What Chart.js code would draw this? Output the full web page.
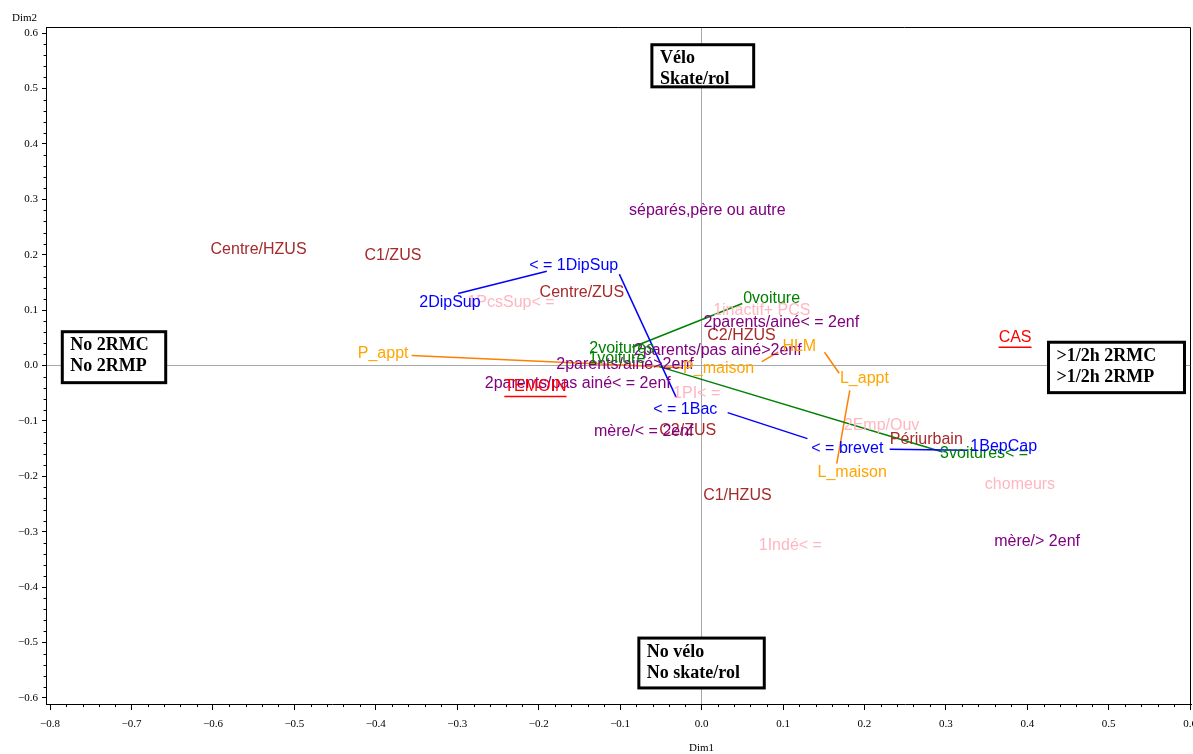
<!DOCTYPE html>
<html>
<head>
<meta charset="utf-8">
<script src="https://cdn.jsdelivr.net/npm/chart.js@4.4.0/dist/chart.umd.min.js"></script>
<style>
  html, body { margin: 0; padding: 0; background: #fff; }
</style>
</head>
<body>
<canvas id="acm" width="1193" height="754"></canvas>
<script>
// axis ticks
const xTicks = [-0.8, -0.7, -0.6, -0.5, -0.4, -0.3, -0.2, -0.1, 0, 0.1, 0.2, 0.3, 0.4, 0.5, 0.6];
const yTicks = [-0.6, -0.5, -0.4, -0.3, -0.2, -0.1, 0, 0.1, 0.2, 0.3, 0.4, 0.5, 0.6];

// groupe (red, underlined)
const groupeLabels = ["TEMOIN", "CAS"];
const groupeX = [-0.204, 0.385];
const groupeY = [-0.038, 0.051];

// zone de residence (brown)
const zoneLabels = ["Centre/HZUS", "C1/ZUS", "Centre/ZUS", "C2/HZUS", "C2/ZUS", "C1/HZUS", "Périurbain"];
const zoneX = [-0.544, -0.379, -0.147, 0.049, -0.017, 0.044, 0.276];
const zoneY = [0.210, 0.199, 0.132, 0.054, -0.118, -0.235, -0.134];

// famille (purple)
const familleLabels = ["séparés,père ou autre", "2parents/ainé< = 2enf", "2parents/pas ainé>2enf",
  "2parents/ainé>2enf", "2parents/pas ainé< = 2enf", "mère/< = 2enf", "mère/> 2enf"];
const familleX = [0.007, 0.098, 0.020, -0.094, -0.152, -0.071, 0.412];
const familleY = [0.280, 0.078, 0.027, 0.002, -0.033, -0.119, -0.318];

// diplome (blue)
const diplomeLabels = ["< = 1DipSup", "2DipSup", "< = 1Bac", "< = brevet", "1BepCap"];
const diplomeX = [-0.157, -0.309, -0.020, 0.179, 0.371];
const diplomeY = [0.181, 0.114, -0.080, -0.150, -0.146];
const diplomeLinks = [
  [-0.299, 0.130, -0.190, 0.170],
  [-0.101, 0.165, -0.031, -0.058],
  [0.032, -0.085, 0.130, -0.132],
  [0.231, -0.151, 0.326, -0.153]
];

// voitures (green)
const voitureLabels = ["0voiture", "2voitures", "1voiture", "3voitures< ="];
const voitureX = [0.086, -0.098, -0.104, 0.347];
const voitureY = [0.121, 0.031, 0.013, -0.159];
const voitureLinks = [
  [0.050, 0.112, -0.085, 0.033],
  [-0.052, -0.002, 0.296, -0.156]
];

// logement (orange)
const logementLabels = ["P_appt", "P_maison", "HLM", "L_appt", "L_maison"];
const logementX = [-0.391, 0.021, 0.120, 0.200, 0.185];
const logementY = [0.022, -0.005, 0.034, -0.024, -0.193];
const logementLinks = [
  [-0.356, 0.018, -0.023, -0.004],
  [0.074, 0.007, 0.094, 0.024],
  [0.151, 0.024, 0.169, -0.014],
  [0.182, -0.045, 0.166, -0.177]
];

// PCS (pink)
const pcsLabels = ["1PcsSup< =", "1inactif+ PCS", "1PI< =", "2Emp/Ouv", "chomeurs", "1Indé< ="];
const pcsX = [-0.234, 0.074, -0.006, 0.221, 0.391, 0.109];
const pcsY = [0.114, 0.099, -0.051, -0.108, -0.215, -0.325];

// axis-end boxes: [x1, y1, x2, y2] in data units
const boxTexts = [["Vélo", "Skate/rol"], ["No vélo", "No skate/rol"], ["No 2RMC", "No 2RMP"], [">1/2h 2RMC", ">1/2h 2RMP"]];
const boxRects = [
  [-0.061, 0.579, 0.064, 0.503],
  [-0.077, -0.492, 0.077, -0.582],
  [-0.785, 0.061, -0.658, -0.031],
  [0.426, 0.042, 0.593, -0.049]
];

const labelGroups = [
  { labels: zoneLabels, xs: zoneX, ys: zoneY, color: "#a52a2a" },
  { labels: familleLabels, xs: familleX, ys: familleY, color: "#800080" },
  { labels: pcsLabels, xs: pcsX, ys: pcsY, color: "#ffb6c1" },
  { labels: logementLabels, xs: logementX, ys: logementY, color: "#ffa500" },
  { labels: voitureLabels, xs: voitureX, ys: voitureY, color: "#008000" },
  { labels: diplomeLabels, xs: diplomeX, ys: diplomeY, color: "#0000ff" },
  { labels: groupeLabels, xs: groupeX, ys: groupeY, color: "#ff0000", underline: true }
];

const linkSets = [
  { links: diplomeLinks, color: "#0000ff" },
  { links: voitureLinks, color: "#008000" },
  { links: logementLinks, color: "#ff8000" }
];

const datasets = [];
linkSets.forEach(s => {
  s.links.forEach(l => {
    datasets.push({
      data: [{ x: l[0], y: l[1] }, { x: l[2], y: l[3] }],
      showLine: true,
      borderColor: s.color,
      borderWidth: 1.5,
      pointRadius: 0,
      pointHoverRadius: 0
    });
  });
});

const fmt = v => (v < 0 ? "\u2212" : "") + Math.abs(v).toFixed(1);

const overlay = {
  id: "overlay",
  afterDatasetsDraw(chart) {
    const { ctx, chartArea: a, scales: { x, y } } = chart;
    ctx.save();

    // labels
    ctx.font = '16px "Liberation Sans", Arial, sans-serif';
    ctx.textAlign = "center";
    ctx.textBaseline = "middle";
    labelGroups.forEach(g => {
      ctx.fillStyle = g.color;
      ctx.strokeStyle = g.color;
      g.labels.forEach((t, i) => {
        const px = x.getPixelForValue(g.xs[i]);
        const py = y.getPixelForValue(g.ys[i]);
        ctx.fillText(t, px, py);
        if (g.underline) {
          const w = ctx.measureText(t).width;
          ctx.lineWidth = 1.5;
          ctx.beginPath();
          ctx.moveTo(px - w / 2, py + 10);
          ctx.lineTo(px + w / 2, py + 10);
          ctx.stroke();
        }
      });
    });

    // boxes
    ctx.font = 'bold 18px "Liberation Serif", "Times New Roman", serif';
    ctx.textAlign = "left";
    boxRects.forEach((r, i) => {
      const x1 = x.getPixelForValue(r[0]), y1 = y.getPixelForValue(r[1]);
      const x2 = x.getPixelForValue(r[2]), y2 = y.getPixelForValue(r[3]);
      ctx.fillStyle = "#fff";
      ctx.fillRect(x1, y1, x2 - x1, y2 - y1);
      ctx.strokeStyle = "#000";
      ctx.lineWidth = 3;
      ctx.strokeRect(x1, y1, x2 - x1, y2 - y1);
      ctx.fillStyle = "#000";
      ctx.fillText(boxTexts[i][0], x1 + 8, y1 + 14);
      ctx.fillText(boxTexts[i][1], x1 + 8, y1 + 35);
    });

    // frame top / right
    ctx.strokeStyle = "#000";
    ctx.lineWidth = 1;
    ctx.beginPath();
    ctx.moveTo(a.left, a.top + 0.5);
    ctx.lineTo(a.right - 0.5, a.top + 0.5);
    ctx.lineTo(a.right - 0.5, a.bottom);
    ctx.stroke();
    ctx.restore();
  },
  afterDraw(chart) {
    const { ctx, chartArea: a, scales: { x, y } } = chart;
    ctx.save();
    ctx.strokeStyle = "#000";
    ctx.lineWidth = 1;
    ctx.beginPath();
    // minor ticks every 0.02
    for (let k = -40; k <= 30; k++) {
      if (k % 5 === 0) continue;
      const px = Math.round(x.getPixelForValue(k * 0.02)) + 0.5;
      ctx.moveTo(px, a.bottom);
      ctx.lineTo(px, a.bottom + 3);
    }
    for (let k = -30; k <= 30; k++) {
      if (k % 5 === 0) continue;
      const py = Math.round(y.getPixelForValue(k * 0.02)) + 0.5;
      ctx.moveTo(a.left, py);
      ctx.lineTo(a.left - 2.5, py);
    }
    ctx.stroke();

    ctx.fillStyle = "#000";
    ctx.font = '11px "Liberation Serif", serif';
    ctx.textBaseline = "middle";
    ctx.textAlign = "left";
    ctx.fillText("Dim2", 12, 18);
    ctx.textAlign = "center";
    ctx.fillText("Dim1", x.getPixelForValue(0), 748);
    ctx.restore();
  }
};

new Chart(document.getElementById("acm"), {
  type: "scatter",
  data: { datasets: datasets },
  options: {
    responsive: false,
    animation: false,
    layout: { padding: { top: 27, right: 2, left: 0, bottom: 0 } },
    plugins: { legend: { display: false }, tooltip: { enabled: false } },
    scales: {
      x: {
        type: "linear",
        min: -0.805,
        max: 0.601,
        afterBuildTicks: s => { s.ticks = xTicks.map(v => ({ value: v })); },
        afterFit: s => { s.height = 50; s.paddingLeft = 0; s.paddingRight = 0; },
        grid: {
          color: c => (c.tick && c.tick.value === 0 ? "#a8a8a8" : "rgba(0,0,0,0)"),
          tickColor: "#000",
          tickLength: 6,
          lineWidth: 1
        },
        border: { color: "#000", width: 1 },
        ticks: {
          padding: 8,
          maxRotation: 0,
          autoSkip: false,
          color: "#000",
          font: { family: '"Liberation Serif", serif', size: 11 },
          callback: v => fmt(v)
        }
      },
      y: {
        type: "linear",
        min: -0.611,
        max: 0.611,
        afterBuildTicks: s => { s.ticks = yTicks.map(v => ({ value: v })); },
        afterFit: s => { s.width = 46; s.paddingTop = 0; s.paddingBottom = 0; },
        grid: {
          color: c => (c.tick && c.tick.value === 0 ? "#a8a8a8" : "rgba(0,0,0,0)"),
          tickColor: "#000",
          tickLength: 4,
          lineWidth: 1
        },
        border: { color: "#000", width: 1 },
        ticks: {
          padding: 4,
          autoSkip: false,
          color: "#000",
          font: { family: '"Liberation Serif", serif', size: 11 },
          callback: v => fmt(v)
        }
      }
    }
  },
  plugins: [overlay]
});
</script>
</body>
</html>
